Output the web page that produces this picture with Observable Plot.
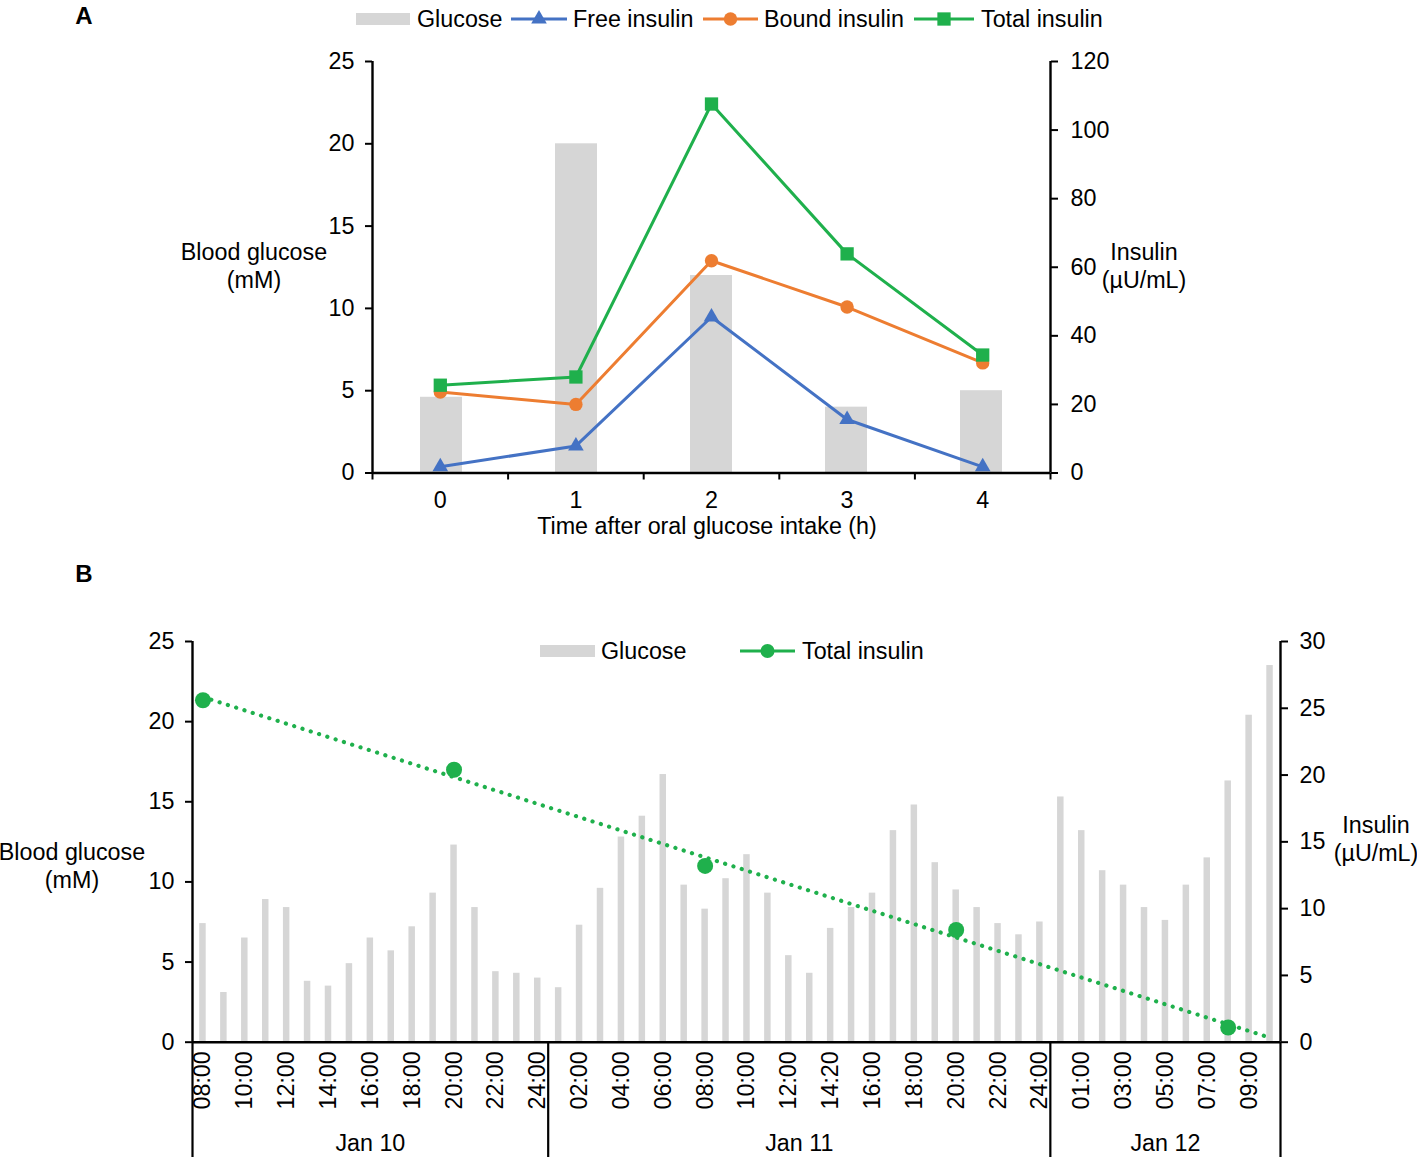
<!DOCTYPE html>
<html>
<head>
<meta charset="utf-8">
<script src="https://cdn.jsdelivr.net/npm/d3@7"></script>
<script src="https://cdn.jsdelivr.net/npm/@observablehq/plot@0.6"></script>
<style>
  body { margin: 0; background: #fff; }
  #wrap { position: relative; width: 1417px; height: 1157px; overflow: hidden;
          font-family: "Liberation Sans", Arial, sans-serif; font-size: 23.3px; color: #000; }
  #wrap svg.plot { position: absolute; left: 0; }
  .t { position: absolute; white-space: nowrap; line-height: 28px; text-align: center;
       transform: translate(-50%, -50%); }
  .lt { position: absolute; white-space: nowrap; line-height: 26px; transform: translateY(-50%); }
  .panel { font-weight: bold; font-size: 24px; }
  .sw { position: absolute; }
</style>
</head>
<body>
<div id="wrap"></div>
<script>
// ---------------- DATA ----------------
// Panel A
const hoursA = ["0", "1", "2", "3", "4"];
const glucoseA = [4.6, 20.0, 12.0, 4.0, 5.0];
const freeA = [1.8, 7.9, 45.5, 15.6, 1.8];
const boundA = [23.6, 20.0, 61.9, 48.4, 32.1];
const totalA = [25.6, 28.0, 107.6, 63.9, 34.4];
const glucoseTicksA = [0, 5, 10, 15, 20, 25];
const insulinTicksA = [0, 20, 40, 60, 80, 100, 120];

// Panel B
const daysB = ["Jan 10", "Jan 11", "Jan 12"];
const timesJan10 = ["08:00","09:00","10:00","11:00","12:00","13:00","14:00","15:00","16:00",
  "17:00","18:00","19:00","20:00","21:00","22:00","23:00","24:00"];
const timesJan11 = ["01:00","02:00","03:00","04:00","05:00","06:00","07:00","08:00","09:00",
  "10:00","11:00","12:00","13:00","14:20","15:00","16:00","17:00","18:00","19:00","20:00",
  "21:00","22:00","23:00","24:00"];
const timesJan12 = ["00:00","01:00","02:00","03:00","04:00","05:00","06:00","07:00","08:00",
  "09:00","10:00"];
const glucoseJan10 = [7.4, 3.1, 6.5, 8.9, 8.4, 3.8, 3.5, 4.9, 6.5, 5.7, 7.2, 9.3, 12.3, 8.4, 4.4, 4.3, 4.0];
const glucoseJan11 = [3.4, 7.3, 9.6, 12.8, 14.1, 16.7, 9.8, 8.3, 10.2, 11.7, 9.3, 5.4, 4.3, 7.1,
  8.4, 9.3, 13.2, 14.8, 11.2, 9.5, 8.4, 7.4, 6.7, 7.5];
const glucoseJan12 = [15.3, 13.2, 10.7, 9.8, 8.4, 7.6, 9.8, 11.5, 16.3, 20.4, 23.5];
const insulinTimesB = ["Jan 10 08:00", "Jan 10 20:00", "Jan 11 08:00", "Jan 11 20:00", "Jan 12 08:00"];
const insulinB = [25.6, 20.4, 13.2, 8.4, 1.1];
const glucoseTicksB = [0, 5, 10, 15, 20, 25];
const insulinTicksB = [0, 5, 10, 15, 20, 25, 30];

// ---------------- STYLE ----------------
const FONT = '"Liberation Sans", Arial, sans-serif';
const FS = "23.3px";
const GRAY = "#d6d6d6", BLUE = "#4472c4", ORANGE = "#ed7d31", GREEN = "#1fb04c";
const W = 1417;
const wrap = document.getElementById("wrap");

function place(svg, top) {
  svg.classList.add("plot");
  svg.style.top = top + "px";
  wrap.appendChild(svg);
}
const baseStyle = {fontFamily: FONT, fontSize: FS, background: "transparent", overflow: "visible", color: "#000"};

// ---------------- PANEL A ----------------
const tableA = hoursA.map((h, i) => ({i, h, glucose: glucoseA[i], free: freeA[i], bound: boundA[i], total: totalA[i]}));
const mA = {width: W, height: 545, marginLeft: 372, marginRight: 367, marginTop: 61, marginBottom: 72.5};
const xDomA = [-0.5, hoursA.length - 0.5];

const plotA1 = Plot.plot({
  ...mA, style: baseStyle,
  x: {type: "band", domain: hoursA, paddingInner: 0.69, paddingOuter: 0.345, axis: null},
  y: {domain: [0, 25]},
  marks: [
    Plot.barY(tableA, {x: "h", y: "glucose", fill: GRAY}),
    Plot.axisY({anchor: "left", ticks: glucoseTicksA, tickSize: 7, tickPadding: 11, strokeWidth: 2, label: null})
  ]
});
place(plotA1, 0);

const symA = [["free", BLUE, "triangle", 5.8], ["bound", ORANGE, "circle", 6.7], ["total", GREEN, "square", 7.5]];
const plotA2 = Plot.plot({
  ...mA, style: baseStyle,
  x: {type: "linear", domain: xDomA},
  y: {domain: [0, 120]},
  marks: [
    ...symA.map(([k, c]) => Plot.line(tableA, {x: "i", y: k, stroke: c, strokeWidth: 3})),
    ...symA.map(([k, c, s, r]) => Plot.dot(tableA, {x: "i", y: k, fill: c, symbol: s, r})),
    Plot.ruleX(xDomA, {strokeWidth: 2.4}),
    Plot.ruleY([0], {strokeWidth: 2.4}),
    Plot.axisX({ticks: d3.range(xDomA[0], xDomA[1] + 0.01, 1), tickSize: 7, strokeWidth: 2, tickFormat: () => "", label: null}),
    Plot.axisX({ticks: tableA.map(d => d.i), tickSize: 0, tickPadding: 18, tickFormat: i => hoursA[i], label: null}),
    Plot.axisY({anchor: "right", ticks: insulinTicksA, tickSize: 7, tickPadding: 13, strokeWidth: 2, label: null})
  ]
});
place(plotA2, 0);

// ---------------- PANEL B ----------------
const groupsB = [timesJan10, timesJan11, timesJan12];
const glucoseGroupsB = [glucoseJan10, glucoseJan11, glucoseJan12];
const tableB = [];
groupsB.forEach((times, g) => times.forEach((t, j) => tableB.push({
  i: tableB.length, key: daysB[g] + " " + t, time: t, day: daysB[g], glucose: glucoseGroupsB[g][j]
})));
const keysB = tableB.map(d => d.key);
const xDomB = [-0.5, keysB.length - 0.5];
// group boundaries and centers
const bounds = [xDomB[0]];
groupsB.forEach(times => bounds.push(bounds[bounds.length - 1] + times.length));
const centers = daysB.map((d, g) => (bounds[g] + bounds[g + 1]) / 2);
const centerLabel = new Map(centers.map((c, g) => [c, daysB[g]]));

const insB = insulinTimesB.map((k, j) => ({x: keysB.indexOf(k), y: insulinB[j]}));
// Linear trend line of total insulin over the category axis
const mx = d3.mean(insB, d => d.x), my = d3.mean(insB, d => d.y);
const slope = d3.sum(insB, d => (d.x - mx) * (d.y - my)) / d3.sum(insB, d => (d.x - mx) ** 2);
const icpt = my - slope * mx;
const trendB = [0, keysB.length - 1].map(x => ({x, y: icpt + slope * x}));

const mB = {width: W, height: 612, marginLeft: 192, marginRight: 137, marginTop: 96, marginBottom: 115.3};
const plotB1 = Plot.plot({
  ...mB, style: baseStyle,
  x: {type: "band", domain: keysB, paddingInner: 0.69, paddingOuter: 0.345, axis: null},
  y: {domain: [0, 25]},
  marks: [
    Plot.barY(tableB, {x: "key", y: "glucose", fill: GRAY}),
    Plot.axisY({anchor: "left", ticks: glucoseTicksB, tickSize: 7, tickPadding: 11, strokeWidth: 2, label: null})
  ]
});
place(plotB1, 545);

const plotB2 = Plot.plot({
  ...mB, style: baseStyle,
  x: {type: "linear", domain: xDomB},
  y: {domain: [0, 30]},
  marks: [
    Plot.line(trendB, {x: "x", y: "y", stroke: GREEN, strokeWidth: 4.2, strokeDasharray: "0.1 8.6", strokeLinecap: "round"}),
    Plot.dot(insB, {x: "x", y: "y", fill: GREEN, r: 8}),
    Plot.ruleX(xDomB, {strokeWidth: 2.4}),
    Plot.ruleY([0], {strokeWidth: 2.4}),
    Plot.axisX({ticks: bounds, tickSize: 116, strokeWidth: 2.2, tickFormat: () => "", label: null}),
    Plot.axisX({ticks: tableB.filter(d => d.i % 2 === 0).map(d => d.i), tickSize: 0, tickPadding: 9,
      tickRotate: -90, tickFormat: i => tableB[i].time, label: null}),
    Plot.axisX({ticks: centers, tickSize: 0, tickPadding: 92, tickFormat: c => centerLabel.get(c), label: null}),
    Plot.axisY({anchor: "right", ticks: insulinTicksB, tickSize: 7, tickPadding: 12, strokeWidth: 2, label: null})
  ]
});
place(plotB2, 545);

// ---------------- TEXT LABELS ----------------
function addText(cls, html, x, y) {
  const d = document.createElement("div");
  d.className = cls; d.innerHTML = html;
  d.style.left = x + "px"; d.style.top = y + "px";
  wrap.appendChild(d);
  return d;
}
addText("t panel", "A", 84, 16);
addText("t panel", "B", 84, 574);
addText("t", "Blood glucose<br>(mM)", 254, 266);
addText("t", "Insulin<br>(µU/mL)", 1144, 266);
addText("t", "Time after oral glucose intake (h)", 707, 526);
addText("t", "Blood glucose<br>(mM)", 72, 866);
addText("t", "Insulin<br>(µU/mL)", 1376, 839);

// ---------------- LEGENDS ----------------
const NS = "http://www.w3.org/2000/svg";
function swatchBox(x, y, w, h, color) {
  const d = document.createElement("div");
  d.className = "sw";
  Object.assign(d.style, {left: x + "px", top: (y - h / 2) + "px", width: w + "px", height: h + "px", background: color});
  wrap.appendChild(d);
}
function swatchLine(x, y, w, color, symbol, r) {
  const svg = document.createElementNS(NS, "svg");
  svg.setAttribute("width", w); svg.setAttribute("height", 24);
  svg.style.position = "absolute"; svg.style.left = x + "px"; svg.style.top = (y - 12) + "px";
  const ln = document.createElementNS(NS, "line");
  ln.setAttribute("x1", 0); ln.setAttribute("x2", w); ln.setAttribute("y1", 12); ln.setAttribute("y2", 12);
  ln.setAttribute("stroke", color); ln.setAttribute("stroke-width", 3);
  svg.appendChild(ln);
  const p = document.createElementNS(NS, "path");
  p.setAttribute("d", d3.symbol(symbol, Math.PI * r * r)());
  p.setAttribute("transform", `translate(${w / 2},12)`);
  p.setAttribute("fill", color);
  svg.appendChild(p);
  wrap.appendChild(svg);
}
// Panel A legend
swatchBox(356, 19, 54, 12, GRAY);
addText("lt", "Glucose", 417, 19);
swatchLine(511, 19, 56, BLUE, d3.symbolTriangle, 5.8);
addText("lt", "Free insulin", 573, 19);
swatchLine(703, 19, 55, ORANGE, d3.symbolCircle, 6.7);
addText("lt", "Bound insulin", 764, 19);
swatchLine(914, 19, 60, GREEN, d3.symbolSquare, 7.5);
addText("lt", "Total insulin", 981, 19);
// Panel B legend
swatchBox(540, 651, 55, 12, GRAY);
addText("lt", "Glucose", 601, 651);
swatchLine(740, 651, 55, GREEN, d3.symbolCircle, 7);
addText("lt", "Total insulin", 802, 651);
</script>
</body>
</html>
